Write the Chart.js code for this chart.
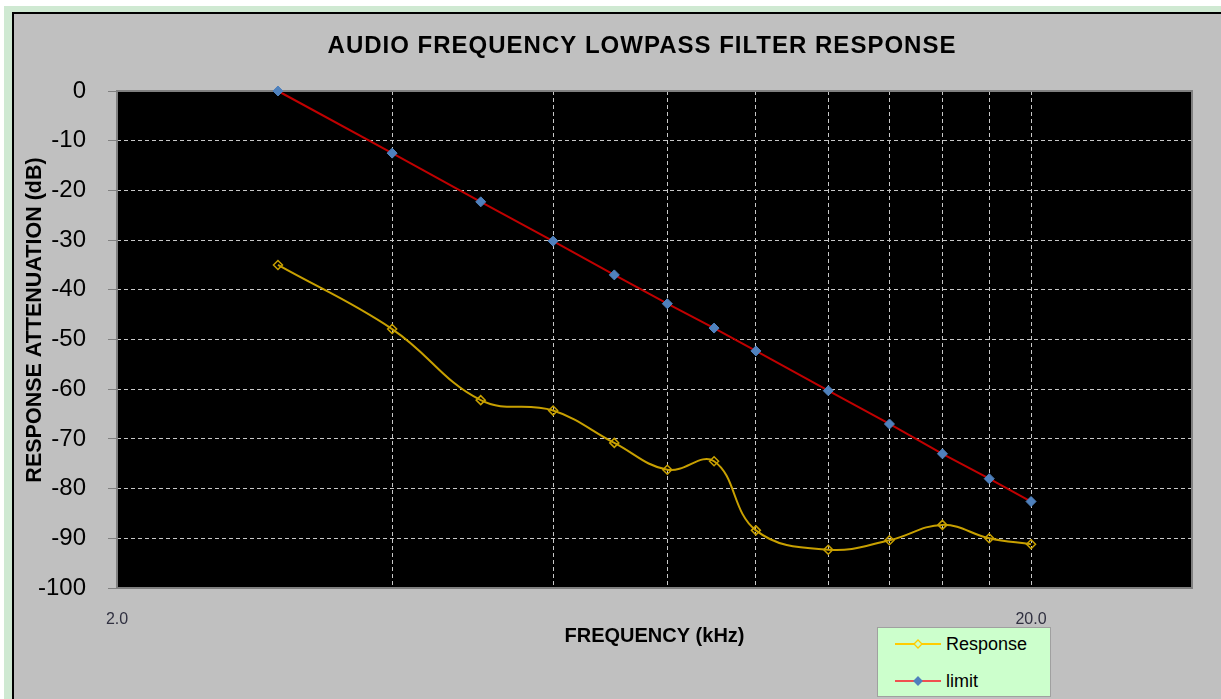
<!DOCTYPE html>
<html>
<head>
<meta charset="utf-8">
<script src="https://cdn.jsdelivr.net/npm/chart.js@4.4.1/dist/chart.umd.min.js"></script>
<style>
  html, body { margin: 0; padding: 0; background: #ffffff; }
  #wrap { position: relative; width: 1221px; height: 699px; overflow: hidden; }
  #chart { display: block; }
  #legend {
    position: absolute; left: 877px; top: 627px; width: 172px; height: 68px;
    background: #ccffcc; border: 1px solid #a0a0a0;
    font-family: Arial, "Liberation Sans", sans-serif; font-size: 18px; color: #000;
  }
  .entry { position: absolute; left: 17px; height: 24px; display: flex; align-items: center; }
  .entry svg { margin-right: 5px; }
</style>
</head>
<body>
<div id="wrap">
  <canvas id="chart" width="1221" height="699"></canvas>
  <div id="legend"></div>
</div>
<script>
const chartTitle = 'AUDIO FREQUENCY LOWPASS FILTER RESPONSE';
const xAxisTitle = 'FREQUENCY (kHz)';
const yAxisTitle = 'RESPONSE ATTENUATION (dB)';

// frequency points, kHz
const freqKHz = [3, 4, 5, 6, 7, 8, 9, 10, 12, 14, 16, 18, 20];
const responseDb = [-35, -47.9, -62.2, -64.3, -70.8, -76.2, -74.5, -88.4, -92.3, -90.4, -87.3, -90.0, -91.2];
const limitDb = [0, -12.5, -22.3, -30.2, -37.0, -42.8, -47.7, -52.3, -60.3, -67.0, -73.0, -78.0, -82.6];

const xMin = 2;
const xMax = 30;
const xGridTicks = [2, 4, 6, 8, 10, 12, 14, 16, 18, 20];
const xLabelTicks = [2, 20];
const yMin = -100;
const yMax = 0;
const yStep = 10;

const seriesStyles = [
  { label: 'Response', line: '#c8a000', legendLine: '#ffcc00', fill: 'rgba(0,0,0,0)', legendFill: '#ccffcc' },
  { label: 'limit', line: '#c00000', legendLine: '#f05050', fill: '#4f81bd', legendFill: '#4f81bd' }
];

const FONT = 'Arial, "Liberation Sans", sans-serif';
Chart.defaults.font.family = FONT;

function toPoints(values) {
  return freqKHz.map((f, i) => ({ x: f, y: values[i] }));
}

// sheet frame, black plot area, plot border, chart title and y title
const backdrop = {
  id: 'backdrop',
  beforeDraw(chart) {
    const { ctx, width, height, chartArea: a } = chart;
    ctx.save();
    ctx.fillStyle = '#ffffff';
    ctx.fillRect(0, 0, width, height);
    ctx.fillStyle = '#cfe9d2';
    ctx.fillRect(4, 6, width - 4, height - 6);
    ctx.fillStyle = '#000000';
    ctx.fillRect(12, 12, width - 12, height - 12);
    ctx.fillStyle = '#c0c0c0';
    ctx.fillRect(14, 14, width - 14, height - 14);
    ctx.fillStyle = '#000000';
    ctx.fillRect(a.left, a.top, a.right - a.left, a.bottom - a.top);

    ctx.font = 'bold 24px ' + FONT;
    ctx.letterSpacing = '1px';
    ctx.textAlign = 'center';
    ctx.textBaseline = 'middle';
    ctx.fillText(chartTitle, 642, 46);
    ctx.restore();
  },
  beforeDatasetsDraw(chart) {
    const { ctx, chartArea: a } = chart;
    ctx.save();
    ctx.strokeStyle = '#808080';
    ctx.lineWidth = 2;
    ctx.strokeRect(a.left, a.top, a.right - a.left, a.bottom - a.top);
    ctx.restore();
  },
  afterDraw(chart) {
    const { ctx } = chart;
    ctx.save();
    ctx.translate(35, 320);
    ctx.rotate(-Math.PI / 2);
    ctx.font = 'bold 21.5px ' + FONT;
    ctx.fillStyle = '#000000';
    ctx.textAlign = 'center';
    ctx.textBaseline = 'middle';
    ctx.fillText(yAxisTitle, 0, 0);
    ctx.restore();
  }
};

const chart = new Chart(document.getElementById('chart'), {
  type: 'line',
  data: {
    datasets: [
      {
        label: seriesStyles[0].label,
        data: toPoints(responseDb),
        borderColor: seriesStyles[0].line,
        borderWidth: 2,
        tension: 0.4,
        clip: false,
        pointStyle: 'rectRot',
        pointRadius: 4.5,
        pointBorderWidth: 1.5,
        pointBorderColor: seriesStyles[0].line,
        pointBackgroundColor: seriesStyles[0].fill
      },
      {
        label: seriesStyles[1].label,
        data: toPoints(limitDb),
        borderColor: seriesStyles[1].line,
        borderWidth: 2,
        tension: 0,
        clip: false,
        pointStyle: 'rectRot',
        pointRadius: 5,
        pointBorderWidth: 1,
        pointBorderColor: seriesStyles[1].fill,
        pointBackgroundColor: seriesStyles[1].fill
      }
    ]
  },
  options: {
    responsive: false,
    animation: false,
    layout: { padding: { left: 0, right: 29, top: 91, bottom: 0 } },
    plugins: {
      legend: { display: false },
      tooltip: { enabled: false },
      title: { display: false }
    },
    scales: {
      x: {
        type: 'logarithmic',
        min: xMin,
        max: xMax,
        afterBuildTicks(scale) {
          scale.ticks = xGridTicks.map((v) => ({ value: v }));
        },
        afterFit(scale) {
          scale.height = 111;
        },
        ticks: {
          autoSkip: false,
          maxRotation: 0,
          padding: 22,
          color: '#303040',
          font: { size: 16 },
          callback: (value) => (xLabelTicks.includes(value) ? value.toFixed(1) : '')
        },
        grid: {
          color: '#c8c8c8',
          lineWidth: 1,
          drawTicks: false
        },
        border: { display: false, dash: [4, 3] },
        title: {
          display: true,
          text: xAxisTitle,
          color: '#000000',
          font: { size: 20, weight: 'bold' },
          padding: { top: 0, bottom: 51 }
        }
      },
      y: {
        min: yMin,
        max: yMax,
        afterFit(scale) {
          scale.width = 117;
        },
        ticks: {
          stepSize: yStep,
          padding: 22,
          color: '#000000',
          font: { size: 24 }
        },
        grid: {
          color: '#c8c8c8',
          lineWidth: 1,
          tickLength: 9,
          tickColor: '#808080',
          tickBorderDash: []
        },
        border: { display: false, dash: [4, 3] }
      }
    }
  },
  plugins: [backdrop]
});

// legend box built from the same series definitions
function diamondSvg(style) {
  return `<svg width="46" height="12" viewBox="0 0 46 12">
    <line x1="0" y1="6" x2="46" y2="6" stroke="${style.legendLine}" stroke-width="2"/>
    <polygon points="23,2 27,6 23,10 19,6" fill="${style.legendFill}" stroke="${style.label === 'limit' ? style.legendFill : style.legendLine}" stroke-width="1.3"/>
  </svg>`;
}

document.getElementById('legend').innerHTML = seriesStyles
  .map(
    (style, i) => `
      <div class="entry" style="top:${4 + i * 37}px">
        ${diamondSvg(style)}<span>${style.label}</span>
      </div>
    `
  )
  .join('');
</script>
</body>
</html>
